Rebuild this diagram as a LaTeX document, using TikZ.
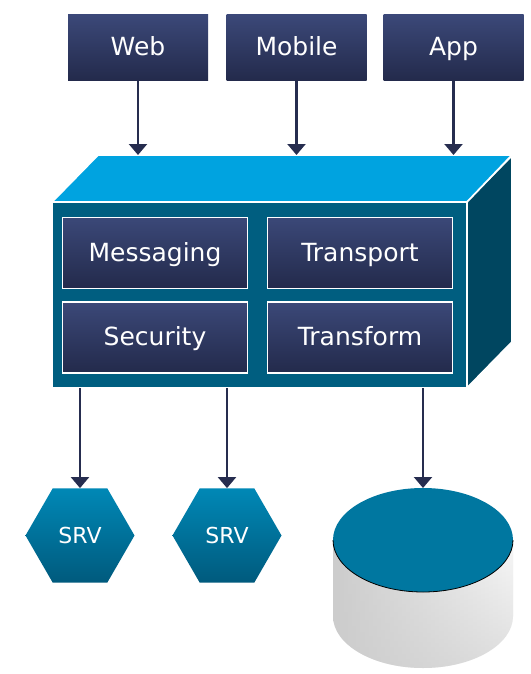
\documentclass[tikz,border=0pt]{standalone}
\usepackage{fontspec}
\setmainfont{DejaVu Sans}
\usetikzlibrary{arrows.meta,shapes.geometric,fadings}
\definecolor{navyT}{HTML}{3B4878}
\definecolor{navyB}{HTML}{232A4B}
\definecolor{arrowc}{HTML}{262D4F}
\definecolor{topface}{HTML}{00A3E0}
\definecolor{frontface}{HTML}{005E80}
\definecolor{sideface}{HTML}{004660}
\definecolor{hexT}{HTML}{0088B6}
\definecolor{hexB}{HTML}{005A7D}
\definecolor{dbtopc}{HTML}{0077A0}
\tikzfading[name=darkbottom, top color=transparent!100, bottom color=transparent!40]
\begin{document}
\begin{tikzpicture}[x=1pt,y=-1pt,
  client/.style={rectangle, minimum width=140pt, minimum height=66pt, inner sep=0pt,
    top color=navyT, bottom color=navyB, text=white,
    font=\fontsize{25}{28}\selectfont, text height=18pt, text depth=2pt},
  module/.style={client, minimum width=185pt, minimum height=71pt, draw=white, line width=1.6pt},
  srv/.style={regular polygon, regular polygon sides=6, minimum size=109pt, inner sep=0pt,
    top color=hexT, bottom color=hexB, text=white,
    font=\fontsize{22}{24}\selectfont, text height=16pt, text depth=0pt},
  flow/.style={draw=arrowc, line width=2.2pt, -{Triangle[width=18pt,length=11pt]}},
  face/.style={draw=white, line width=1.8pt, line join=miter}
]
\useasboundingbox[fill=white] (0,0) rectangle (530,674);

% clients
\node[client] (web) at (138,48) {Web};
\node[client] (mobile) at (296.5,48) {Mobile};
\node[client] (app) at (453.5,48) {App};

% cube
\fill[fill=topface] (52,202) -- (98,155) -- (512,155) -- (467,202) -- cycle;
\fill[fill=sideface] (467,202) -- (512,157) -- (512,342) -- (467,388) -- cycle;
\filldraw[face, fill=frontface] (52,202) rectangle (467,388);
\draw[face] (52,202) -- (98,155) -- (512,155) -- (467,202);
\draw[face] (512,157) -- (512,342) -- (467,388);
\coordinate (cubeTop) at (0,155);
\coordinate (cubeBot) at (0,388);

% modules
\node[module] (msg) at (155,253) {Messaging};
\node[module] (trp) at (360,253) {Transport};
\node[module] (sec) at (155,337.5) {Security};
\node[module] (trf) at (360,337.5) {Transform};

% services
\node[srv] (srv1) at (80,535.5) {SRV};
\node[srv] (srv2) at (227,535.5) {SRV};

% database
\shade[left color=gray!40, middle color=gray!12, right color=gray!6]
  (333,540) -- (333,616) arc (180:0:90 and 52) -- (513,540) arc (0:180:90 and 52) -- cycle;
\fill[gray!40, path fading=darkbottom]
  (333,540) -- (333,616) arc (180:0:90 and 52) -- (513,540) arc (0:180:90 and 52) -- cycle;
\fill[dbtopc] (423,540) ellipse (90 and 52);
\draw[black, line width=0.8pt] (513,540) arc (0:180:90 and 52);
\coordinate (db) at (423,488);

% connectors
\draw[flow] (web) -- (web.south |- cubeTop);
\draw[flow] (mobile) -- (mobile.south |- cubeTop);
\draw[flow] (app) -- (app.south |- cubeTop);
\draw[flow] (srv1.north |- cubeBot) -- (srv1.north);
\draw[flow] (srv2.north |- cubeBot) -- (srv2.north);
\draw[flow] (db |- cubeBot) -- (db);
\end{tikzpicture}
\end{document}
